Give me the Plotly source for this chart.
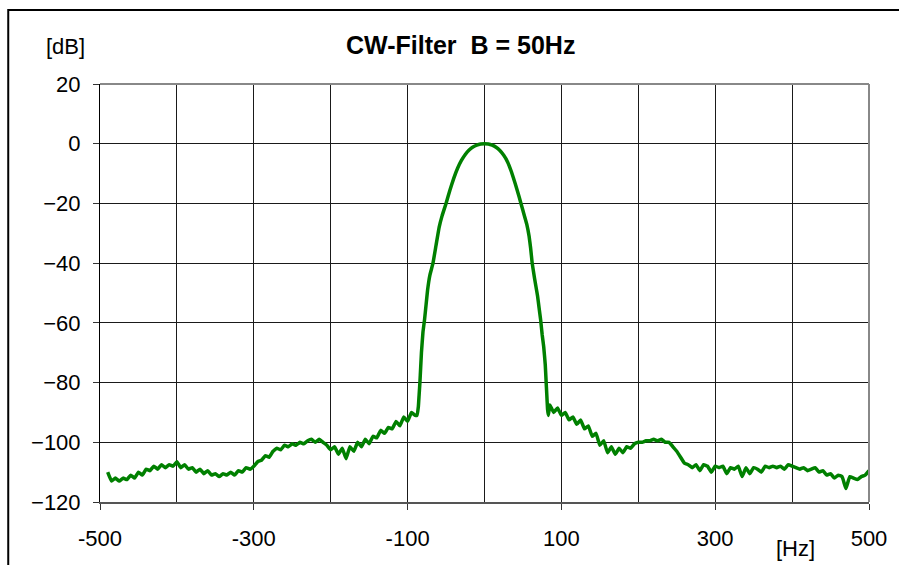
import plotly.graph_objects as go

# Frequency (Hz) and level (dB)
left_freq = list(range(-490, -85, 5))
left_db = [-110, -113, -112, -113, -112, -112.5, -111, -112, -110, -111,
           -109, -109.5, -108, -109, -107.5, -108.5, -107.5, -108, -106.5, -108.5,
           -107.5, -109, -108.5, -110, -109, -110.5, -109.5, -111, -110.5, -111.5,
           -110.5, -111, -110, -111, -109.5, -110, -108.5, -109, -108, -106.5,
           -106, -104.5, -105, -103, -102, -102.5, -101, -101.5, -100.5, -101,
           -100, -100.5, -99.5, -99, -100, -99, -100, -101, -102.5, -101.5,
           -104, -102, -105.5, -101.5, -103, -100, -101.5, -99, -100.5, -98,
           -98.5, -96, -97, -95, -95.5, -93, -94.5, -91.5, -93, -90, -91]

lobe_freq = [-88, -86, -85, -84, -83, -82, -80, -78, -76, -74, -71, -67, -63, -59,
             -55, -50, -45, -40, -35, -30, -25, -20, -15, -10, -5, 0,
             5, 10, 15, 20, 25, 30, 35, 40, 45, 50, 55, 58, 60, 62, 65, 67, 69,
             71, 73, 75, 77, 79, 80, 81, 82, 83]
lobe_db = [-91, -88, -84, -80, -75, -70, -63, -59, -54, -49, -44, -40, -34, -28,
           -24, -20, -15.6, -11.6, -8.2, -5.6, -3.6, -2.1, -1.1, -0.45, -0.1, 0,
           -0.1, -0.5, -1.2, -2.3, -3.9, -6.1, -9.4, -13.4, -17.8, -22.4, -27, -31, -35, -40, -45, -48, -51,
           -55, -59, -64, -68, -74, -79, -84, -89, -91]

right_freq = list(range(85, 505, 5))
right_db = [-87.5, -90, -88.5, -91, -90, -92.5, -91.5, -94, -92.5, -95.5,
            -94.5, -98, -97, -101, -99.5, -103.5, -101.5, -104, -102, -103.5,
            -101.5, -102, -100.5, -100, -100, -99.5, -99.5, -99, -99.5, -99,
            -100, -100, -101.5, -103, -105, -107, -107.5, -108.5, -107.5, -109.5,
            -107.5, -108, -110, -108, -108.5, -108, -110.5, -108.5, -109, -108,
            -111.5, -108.5, -110.5, -108.5, -109, -110, -108, -108.5, -108, -108.5,
            -108, -109, -107.5, -108, -108.5, -109, -108.5, -109.5, -109, -108.5,
            -110, -109.5, -111, -110.5, -112, -111, -111.5, -115.5, -111.5, -112,
            -112.5, -111.5, -111, -109.5]

freq = left_freq + lobe_freq + right_freq
level = left_db + lobe_db + right_db

x_ticks = [-500, -300, -100, 100, 300, 500]
y_ticks = [-120, -100, -80, -60, -40, -20, 0, 20]

FONT = "Liberation Sans, Arial, sans-serif"
GRID = "#1a1a1a"

fig = go.Figure()
fig.add_trace(go.Scatter(x=freq, y=level, mode="lines",
                         line=dict(color="#008000", width=3.5, shape="spline", smoothing=0.3),
                         hoverinfo="skip"))

fig.update_layout(
    width=899, height=565,
    margin=dict(l=100, r=28, t=84, b=63),
    paper_bgcolor="white", plot_bgcolor="white",
    showlegend=False,
    font=dict(family=FONT, size=22, color="black"),
    xaxis=dict(range=[-500, 500], tickmode="array", tickvals=x_ticks,
               ticktext=[str(v) for v in x_ticks],
               ticks="outside", ticklen=6, tickcolor="#333", tickwidth=1,
               showgrid=True, gridcolor=GRID, gridwidth=1,
               minor=dict(tickmode="linear", tick0=-500, dtick=100, showgrid=True,
                          gridcolor=GRID, gridwidth=1, ticks=""),
               showline=True, linecolor="#555", linewidth=2,
               zeroline=False, ticklabelstandoff=10,
               tickfont=dict(family=FONT, size=22)),
    yaxis=dict(range=[-120, 20], tickmode="array", tickvals=y_ticks,
               ticks="outside", ticklen=6, tickcolor="#333", tickwidth=1,
               showgrid=True, gridcolor=GRID, gridwidth=1,
               showline=True, linecolor="black", linewidth=1,
               zeroline=False, ticklabelstandoff=8,
               tickfont=dict(family=FONT, size=22)),
    shapes=[
        dict(type="line", xref="paper", yref="paper", x0=0, x1=1, y0=1, y1=1,
             line=dict(color="#888", width=2)),
        dict(type="line", xref="paper", yref="paper", x0=1, x1=1, y0=0, y1=1,
             line=dict(color="#888", width=2)),
        dict(type="rect", xref="paper", yref="paper",
             x0=(8 - 100) / 771, x1=1.2, y0=-0.3, y1=(502 - 10) / 418,
             line=dict(color="black", width=2), fillcolor="rgba(0,0,0,0)"),
    ],
    annotations=[
        dict(text="<b>CW-Filter\u00a0 B = 50Hz</b>", xref="paper", yref="paper",
             x=(461 - 100) / 771, y=(502 - 45) / 418, xanchor="center", yanchor="middle",
             showarrow=False, font=dict(family=FONT, size=25)),
        dict(text="[dB]", xref="paper", yref="paper",
             x=(65 - 100) / 771, y=(502 - 47) / 418, xanchor="center", yanchor="middle",
             showarrow=False, font=dict(family=FONT, size=22)),
        dict(text="[Hz]", xref="paper", yref="paper",
             x=(797 - 100) / 771, y=(502 - 548) / 418, xanchor="center", yanchor="middle",
             showarrow=False, font=dict(family=FONT, size=22)),
    ],
)

fig.write_html("out.html")
